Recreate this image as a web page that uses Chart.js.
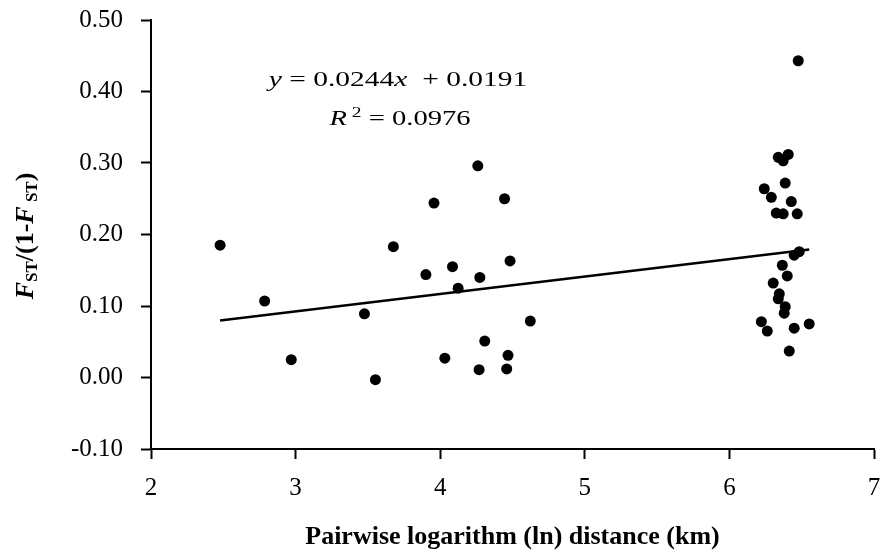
<!DOCTYPE html>
<html>
<head>
<meta charset="utf-8">
<script src="https://cdn.jsdelivr.net/npm/chart.js@4/dist/chart.umd.min.js"></script>
<style>
  html, body { margin: 0; padding: 0; background: #fff; }
  #wrap { width: 894px; height: 552px; }
</style>
</head>
<body>
<div id="wrap"><canvas id="chart" width="894" height="552"></canvas></div>
<script>
// =====================
// DATA
// =====================
const distLn = [
  2.478, 2.786, 2.970, 3.476, 3.552, 3.676, 3.901, 3.957, 4.032, 4.085,
  4.124, 4.260, 4.269, 4.274, 4.308, 4.445, 4.469, 4.460, 4.483, 4.623,
  6.476, 6.338, 6.407, 6.372, 6.386, 6.241, 6.290, 6.428, 6.324, 6.372,
  6.469, 6.448, 6.483, 6.366, 6.400, 6.303, 6.345, 6.338, 6.386, 6.379,
  6.221, 6.262, 6.448, 6.552, 6.414
]
const fstRatio = [
  0.185, 0.107, 0.025, 0.089, -0.003, 0.183, 0.144, 0.244, 0.027, 0.155,
  0.125, 0.296, 0.011, 0.140, 0.051, 0.250, 0.031, 0.012, 0.163, 0.079,
  0.443, 0.308, 0.312, 0.303, 0.272, 0.264, 0.252, 0.246, 0.230, 0.229,
  0.229, 0.171, 0.176, 0.157, 0.142, 0.132, 0.117, 0.110, 0.099, 0.090,
  0.078, 0.065, 0.069, 0.075, 0.037
]
const slope = 0.0244
const intercept = 0.0191
const rSquared = 0.0976
const xTicks = [2, 3, 4, 5, 6, 7]
const yTicks = [-0.10, 0.00, 0.10, 0.20, 0.30, 0.40, 0.50]

const SERIF = '"Liberation Serif", "Times New Roman", serif'

// scatter points + fitted line from the min to max distance
const points = distLn.map((x, i) => ({x: x, y: fstRatio[i]}))
const xMin = Math.min(...distLn)
const xMax = Math.max(...distLn)
const fitLine = [xMin, xMax].map(x => ({x: x, y: slope * x + intercept}))

// =====================
// TEXT HELPERS
// =====================
function drawRuns(ctx, runs, cx, base, sx){
  let w = 0
  runs.forEach(r => { ctx.font = r.font; r.w = ctx.measureText(r.text).width; w += r.w })
  ctx.save()
  ctx.translate(cx, base)
  ctx.scale(sx, 1)
  ctx.fillStyle = "#000"
  ctx.textBaseline = "alphabetic"
  ctx.textAlign = "left"
  let x = -w / 2
  runs.forEach(r => { ctx.font = r.font; ctx.fillText(r.text, x, r.dy || 0); x += r.w })
  ctx.restore()
}

const annotations = {
  id: "annotations",
  afterDraw(chart){
    const ctx = chart.ctx
    const reg = "22px " + SERIF
    const ita = "italic 22px " + SERIF

    // regression equation
    drawRuns(ctx, [
      {text: "y", font: ita},
      {text: " = " + slope.toFixed(4), font: reg},
      {text: "x", font: ita},
      {text: "  + " + intercept.toFixed(4), font: reg}
    ], 398, 86, 1.34)
    drawRuns(ctx, [
      {text: "R", font: ita},
      {text: " 2", font: "15px " + SERIF, dy: -8},
      {text: " = " + rSquared.toFixed(4), font: reg}
    ], 400, 125, 1.3)

    // y axis title F_ST/(1-F_ST)
    const big = "bold 26px " + SERIF
    const bigI = "italic bold 26px " + SERIF
    const sub = "bold 17px " + SERIF
    ctx.save()
    ctx.translate(33, 236)
    ctx.rotate(-Math.PI / 2)
    drawRuns(ctx, [
      {text: "F", font: bigI},
      {text: "ST", font: sub, dy: 4},
      {text: "/(1-", font: big},
      {text: "F", font: bigI},
      {text: " ST", font: sub, dy: 4},
      {text: ")", font: big}
    ], 0, 0, 1)
    ctx.restore()
  }
}

// =====================
// CHART
// =====================
new Chart(document.getElementById("chart"), {
  type: "scatter",
  data: {
    datasets: [
      {
        label: "pairs",
        data: points,
        backgroundColor: "#000",
        borderColor: "#000",
        pointRadius: 5.5,
        pointHoverRadius: 5.5,
        pointBorderWidth: 0
      },
      {
        type: "line",
        label: "fit",
        data: fitLine,
        borderColor: "#000",
        borderWidth: 2.5,
        pointRadius: 0,
        fill: false
      }
    ]
  },
  options: {
    responsive: false,
    animation: false,
    devicePixelRatio: 1,
    layout: { padding: { left: 0, top: 20, right: 20, bottom: 0 } },
    plugins: { legend: { display: false }, tooltip: { enabled: false } },
    scales: {
      x: {
        type: "linear",
        min: 2, max: 7,
        afterBuildTicks: s => { s.ticks = xTicks.map(v => ({value: v})) },
        afterFit: s => { s.height = 103; s.paddingLeft = 0; s.paddingRight = 0 },
        grid: { display: true, drawOnChartArea: false, drawTicks: true, tickLength: 10, color: "#000", tickWidth: 2 },
        border: { display: true, color: "#000", width: 2 },
        ticks: {
          color: "#000",
          padding: 14,
          maxRotation: 0,
          font: { family: SERIF, size: 25 },
          callback: v => String(v)
        },
        title: {
          display: true,
          text: "Pairwise logarithm (ln) distance (km)",
          color: "#000",
          padding: { top: 0, bottom: 0 },
          font: { family: SERIF, size: 26, weight: "bold", lineHeight: 1.1 }
        }
      },
      y: {
        type: "linear",
        min: -0.1, max: 0.5,
        afterBuildTicks: s => { s.ticks = yTicks.map(v => ({value: v})) },
        afterFit: s => { s.width = 151; s.paddingTop = 0; s.paddingBottom = 0 },
        grid: { display: true, drawOnChartArea: false, drawTicks: true, tickLength: 10, color: "#000", tickWidth: 2 },
        border: { display: true, color: "#000", width: 2 },
        ticks: {
          color: "#000",
          padding: 18,
          font: { family: SERIF, size: 25 },
          callback: v => Number(v).toFixed(2)
        }
      }
    }
  },
  plugins: [annotations]
})
</script>
</body>
</html>
